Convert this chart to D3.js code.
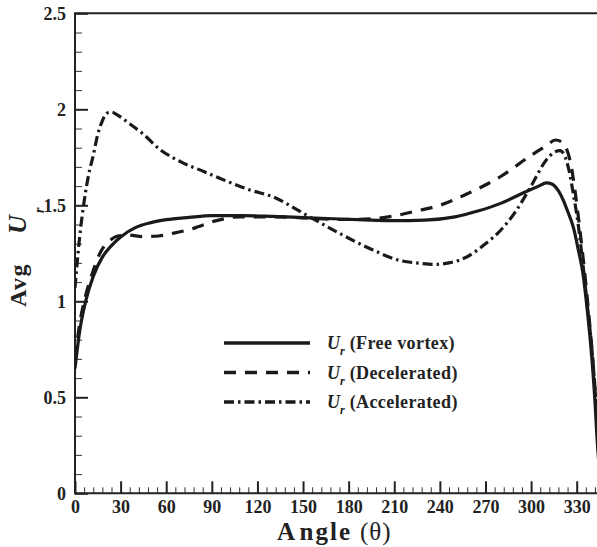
<!DOCTYPE html>
<html>
<head>
<meta charset="utf-8">
<script src="https://cdn.jsdelivr.net/npm/d3@7"></script>
<style>
  html, body { margin: 0; padding: 0; background: #fff; }
  svg { display: block; }
  text { font-family: "Liberation Serif", "Times New Roman", serif; fill: #222; }
</style>
</head>
<body>
<div id="chart"></div>
<script>
// ---- data ----
const freeAngles = [0, 3, 7, 12, 18, 24, 30, 40, 50, 60, 75, 90, 110, 130, 150, 170, 190, 210, 230, 250, 265, 280, 295, 305, 310, 314, 318, 321, 324, 328, 331, 334, 337, 340, 342, 343.5, 345];
const freeValues = [0.65, 0.84, 1.0, 1.13, 1.23, 1.29, 1.335, 1.385, 1.41, 1.425, 1.437, 1.446, 1.446, 1.442, 1.436, 1.43, 1.424, 1.42, 1.423, 1.44, 1.47, 1.51, 1.565, 1.6, 1.617, 1.61, 1.575, 1.53, 1.47, 1.38, 1.27, 1.15, 0.95, 0.7, 0.48, 0.27, 0.12];

const decAngles = [0, 3, 7, 12, 17, 22, 28, 35, 45, 55, 65, 78, 93, 108, 125, 150, 175, 195, 210, 227, 240, 258, 280, 300, 310, 316, 320, 323, 326, 329, 332, 335, 338, 341, 343.5, 345];
const decValues = [0.7, 0.88, 1.03, 1.16, 1.26, 1.31, 1.34, 1.345, 1.337, 1.34, 1.355, 1.38, 1.42, 1.44, 1.44, 1.435, 1.426, 1.43, 1.445, 1.475, 1.5, 1.56, 1.65, 1.76, 1.81, 1.84, 1.83, 1.8, 1.72, 1.57, 1.38, 1.17, 0.93, 0.66, 0.4, 0.28];

const accAngles = [0, 3, 6, 9, 12, 15, 18, 21, 24, 28, 35, 45, 56, 70, 85, 100, 115, 130, 152, 174, 196, 214, 227, 236, 246, 258, 270, 280, 290, 300, 310, 315, 319, 322, 325, 328, 331, 334, 337, 340, 343, 345];
const accValues = [1.07, 1.33, 1.52, 1.66, 1.76, 1.87, 1.94, 1.98, 1.985, 1.97, 1.93, 1.87, 1.79, 1.725, 1.675, 1.625, 1.58, 1.545, 1.45, 1.354, 1.267, 1.212, 1.198, 1.192, 1.2, 1.232, 1.3, 1.37, 1.47, 1.6, 1.736, 1.775, 1.785, 1.76, 1.68, 1.55, 1.4, 1.2, 0.98, 0.75, 0.45, 0.3];

const xTicks = [0, 30, 60, 90, 120, 150, 180, 210, 240, 270, 300, 330];
const yTicks = [0, 0.5, 1, 1.5, 2, 2.5];
const yTickLabels = ["0", "0.5", "1", "1.5", "2", "2.5"];

const seriesNames = ["(Free vortex)", "(Decelerated)", "(Accelerated)"];
const seriesDash = ["none", "12,9", "10,4,2.5,4"];

// ---- layout ----
const W = 597, H = 547;
const pLeft = 75, pRight = 599.5, pTop = 13.3, pBottom = 493.3;

const svg = d3.select("#chart").append("svg").attr("width", W).attr("height", H);

const x = d3.scaleLinear().domain([0, 345]).range([pLeft, pRight]);
const y = d3.scaleLinear().domain([0, 2.5]).range([pBottom, pTop]);

svg.append("defs").append("clipPath").attr("id", "clip")
  .append("rect").attr("x", pLeft).attr("y", pTop).attr("width", pRight - pLeft).attr("height", pBottom - pTop);

// minor ticks
const xMinor = d3.range(0, 346, 6).filter(v => v % 30 !== 0);
const yMinor = d3.range(1, 25).map(v => v / 10).filter((v, i) => (i + 1) % 5 !== 0);

svg.append("g").attr("transform", `translate(0,${pBottom})`)
  .call(d3.axisBottom(x).tickValues(xMinor).tickSize(-6).tickFormat(""))
  .call(g => g.select(".domain").remove())
  .call(g => g.selectAll("line").attr("stroke", "#333").attr("stroke-width", 1));
svg.append("g").attr("transform", `translate(${pLeft},0)`)
  .call(d3.axisLeft(y).tickValues(yMinor).tickSize(-7).tickFormat(""))
  .call(g => g.select(".domain").remove())
  .call(g => g.selectAll("line").attr("stroke", "#333").attr("stroke-width", 1));

// major axes
const xAxis = svg.append("g").attr("transform", `translate(0,${pBottom})`)
  .call(d3.axisBottom(x).tickValues(xTicks).tickSize(-12).tickPadding(7).tickFormat(d3.format("d")));
const yAxis = svg.append("g").attr("transform", `translate(${pLeft},0)`)
  .call(d3.axisLeft(y).tickValues(yTicks).tickSize(-13).tickPadding(9).tickFormat((d, i) => yTickLabels[i]));

[xAxis, yAxis].forEach(a => {
  a.select(".domain").remove();
  a.selectAll("line").attr("stroke", "#222").attr("stroke-width", 2);
  a.selectAll("text").attr("font-size", 18).attr("font-weight", "bold")
    .attr("font-family", "Liberation Serif, serif").attr("fill", "#222");
});

// frame
svg.append("path")
  .attr("d", `M${pRight},${pTop}H${pLeft}V${pBottom}H${pRight}`)
  .attr("fill", "none").attr("stroke", "#222").attr("stroke-width", 2);

// curves
const line = d3.line().x(d => x(d[0])).y(d => y(d[1])).curve(d3.curveMonotoneX);
const series = [
  freeAngles.map((a, i) => [a, freeValues[i]]),
  decAngles.map((a, i) => [a, decValues[i]]),
  accAngles.map((a, i) => [a, accValues[i]])
];
const plot = svg.append("g").attr("clip-path", "url(#clip)");
series.forEach((s, i) => {
  plot.append("path").datum(s).attr("d", line)
    .attr("fill", "none").attr("stroke", "#1a1a1a").attr("stroke-width", 3.2)
    .attr("stroke-dasharray", seriesDash[i]);
});

// legend
const legendY = [343, 372.5, 402];
seriesNames.forEach((name, i) => {
  svg.append("line").attr("x1", 224).attr("x2", 310).attr("y1", legendY[i]).attr("y2", legendY[i])
    .attr("stroke", "#1a1a1a").attr("stroke-width", 3.4).attr("stroke-dasharray", seriesDash[i]);
  const t = svg.append("text").attr("x", 327).attr("y", legendY[i] + 6).attr("font-size", 18).attr("font-weight", "bold");
  t.append("tspan").attr("font-style", "italic").text("U");
  t.append("tspan").attr("font-style", "italic").attr("font-size", 12).attr("dy", 6).attr("dx", 0).text("r");
  t.append("tspan").attr("dy", -6).attr("dx", 5).attr("letter-spacing", 0.4).text(name);
});

// x title
const xt = svg.append("text").attr("x", 277).attr("y", 540).attr("font-size", 25);
xt.append("tspan").attr("font-weight", "bold").attr("letter-spacing", 1.5).text("A");
xt.append("tspan").attr("font-weight", "bold").attr("dx", 3).attr("letter-spacing", 2).text("ngle");
xt.append("tspan").attr("dx", 8).attr("font-weight", "normal").attr("letter-spacing", 1).text("(θ)");

// y title
svg.append("text").attr("transform", "translate(26,307) rotate(-90)")
  .attr("font-size", 24).attr("font-weight", "bold").attr("letter-spacing", 1.5).text("Avg");
svg.append("text").attr("transform", "translate(26,234) rotate(-90)")
  .attr("font-size", 26).attr("font-weight", "bold").attr("font-style", "italic").text("U");
svg.append("text").attr("transform", "translate(44,213) rotate(-90)")
  .attr("font-size", 14).attr("font-weight", "bold").attr("font-style", "italic").text("r");
</script>
</body>
</html>
